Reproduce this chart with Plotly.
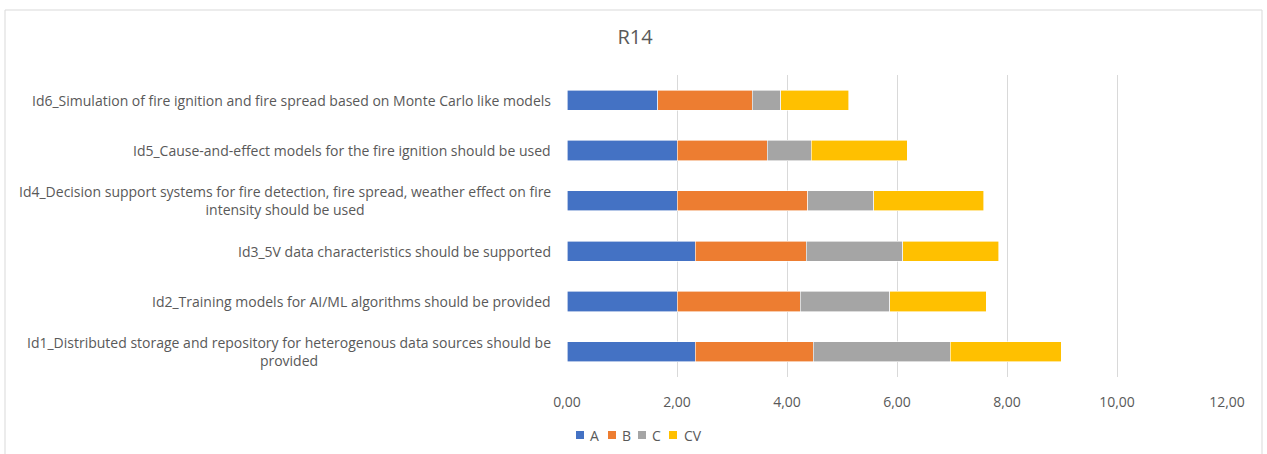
import plotly.graph_objects as go

# Requirement labels (bottom to top)
categories = [
    "Id1_Distributed storage and repository for heterogenous data sources should be<br>provided",
    "Id2_Training models for AI/ML algorithms should be provided",
    "Id3_5V data characteristics should be supported",
    "Id4_Decision support systems for fire detection, fire spread, weather effect on fire<br>intensity should be used",
    "Id5_Cause-and-effect models for the fire ignition should be used",
    "Id6_Simulation of fire ignition and fire spread based on Monte Carlo like models",
]

# Stacked series values
A = [2.33, 2.00, 2.33, 2.00, 2.00, 1.65]
B = [2.15, 2.24, 2.02, 2.38, 1.64, 1.72]
C = [2.49, 1.63, 1.75, 1.20, 0.80, 0.52]
CV = [2.02, 1.75, 1.75, 2.00, 1.75, 1.23]

tick_values = [0, 2, 4, 6, 8, 10, 12]

series_names = ["A", "B", "C", "CV"]
series_values = [A, B, C, CV]
series_colors = ["#4472C4", "#ED7D31", "#A5A5A5", "#FFC000"]

W, H = 1267, 454
L, R, T, Bm = 567, 40, 75, 77
pw, ph = W - L - R, H - T - Bm


def px_x(x):
    return (x - L) / pw


def px_y(y):
    return (H - Bm - y) / ph


fig = go.Figure()
for name, vals, color in zip(series_names, series_values, series_colors):
    fig.add_trace(go.Bar(
        y=categories, x=vals, name=name, orientation="h", showlegend=False,
        marker=dict(color=color, line=dict(color="white", width=0.6)),
    ))

font_family = "'Open Sans', sans-serif"
grey = "#595959"

fig.update_layout(
    barmode="stack",
    bargap=0.6,
    width=W, height=H,
    margin=dict(l=L, r=R, t=T, b=Bm, autoexpand=False),
    paper_bgcolor="white", plot_bgcolor="white",
    separators=",.",
    font=dict(family=font_family, size=14, color=grey),
    title=dict(text="R14", x=635 / W, xanchor="center", y=1 - 37 / H, yanchor="middle",
               yref="container", font=dict(size=20, color=grey, family=font_family)),
    xaxis=dict(range=[0, 12], tickvals=tick_values, tickformat=".2f",
               showgrid=True, gridcolor="#D9D9D9", gridwidth=1,
               zeroline=False, showline=False, ticks="",
               ticklabelstandoff=15, tickfont=dict(size=14, color=grey)),
    yaxis=dict(showgrid=False, zeroline=False, showline=False, ticks="",
               showticklabels=False, automargin=False),
    showlegend=False,
)

# Category labels, wrapped lines centred under each other
for cat in categories:
    fig.add_annotation(text=cat, xref="paper", yref="y", x=px_x(553), y=cat,
                       xanchor="right", yanchor="middle", align="center", showarrow=False,
                       font=dict(size=14, color=grey, family=font_family))

# Compact legend: coloured squares with series names
legend_sq_x = [576, 608, 638, 669]
legend_txt_x = [588, 620, 650, 682]
for name, color, sx, tx in zip(series_names, series_colors, legend_sq_x, legend_txt_x):
    fig.add_shape(type="rect", xref="paper", yref="paper",
                  x0=px_x(sx), x1=px_x(sx + 8), y0=px_y(439), y1=px_y(431),
                  line=dict(width=0), fillcolor=color)
    fig.add_annotation(text=name, xref="paper", yref="paper", x=px_x(tx), y=px_y(435),
                       xanchor="left", yanchor="middle", showarrow=False,
                       font=dict(size=14, color=grey, family=font_family))

# Chart border
fig.add_shape(type="rect", xref="paper", yref="paper",
              x0=px_x(5), x1=px_x(1262), y0=px_y(460), y1=px_y(10),
              line=dict(color="#D9D9D9", width=1), fillcolor="rgba(0,0,0,0)", layer="below")

fig.write_html("out.html")
